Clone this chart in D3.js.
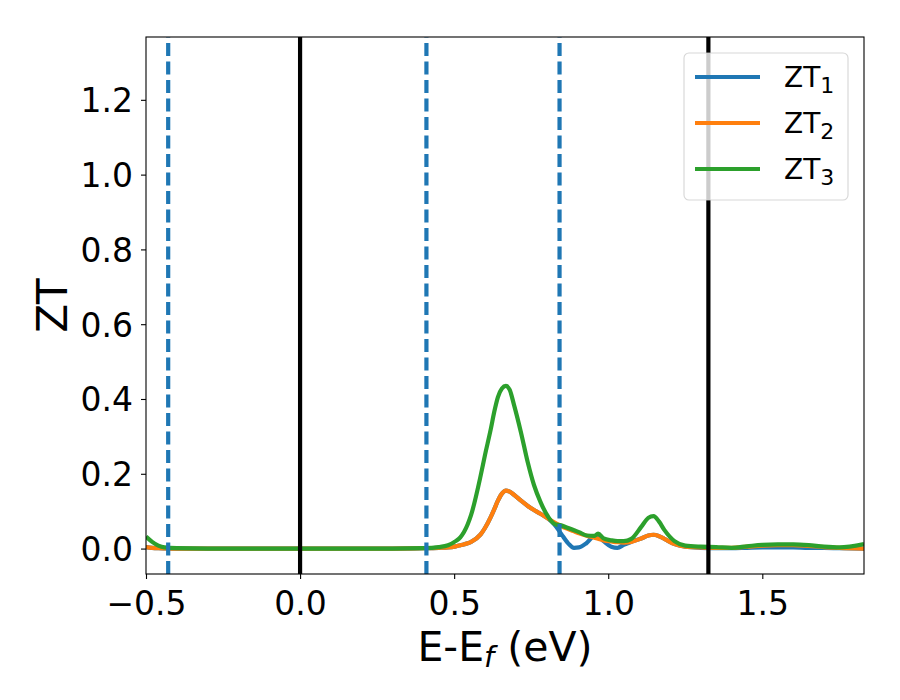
<!DOCTYPE html>
<html lang="en">
<head>
<meta charset="UTF-8" />
<title>ZT vs E-Ef</title>
<script src="https://d3js.org/d3.v7.min.js"></script>
<style>
    body { margin: 0; background: #fff; }
    svg { display: block; font-family: "DejaVu Sans", sans-serif; }
</style>
</head>
<body>
<div id="chart"></div>
<script>
// energy grid (eV) shared by the three curves
const energy = [-0.50, -0.48, -0.46, -0.44, -0.40, -0.30, 0.30, 0.40, 0.45, 0.48,
    0.505, 0.52, 0.544, 0.555, 0.586, 0.60, 0.619, 0.63, 0.642, 0.655,
    0.668, 0.68, 0.694, 0.717, 0.739, 0.759, 0.78, 0.805, 0.825, 0.847,
    0.87, 0.889, 0.905, 0.93, 0.955, 0.967, 0.985, 1.01, 1.03, 1.05,
    1.075, 1.107, 1.13, 1.147, 1.165, 1.182, 1.215, 1.25, 1.30, 1.35,
    1.40, 1.45, 1.50, 1.55, 1.60, 1.65, 1.70, 1.75, 1.83];

const zt1 = [0.004, 0.002, 0.001, 0.0005, 0, 0, 0, 0.001, 0.002, 0.003,
    0.006, 0.009, 0.014, 0.018, 0.038, 0.055, 0.085, 0.105, 0.128, 0.147,
    0.155, 0.152, 0.144, 0.128, 0.114, 0.103, 0.093, 0.080, 0.065, 0.040,
    0.014, 0.002, 0.003, 0.015, 0.033, 0.033, 0.020, 0.005, 0.002, 0.010,
    0.018, 0.027, 0.035, 0.037, 0.033, 0.026, 0.012, 0.005, 0.002, 0.001,
    0.001, 0.002, 0.003, 0.003, 0.003, 0.002, 0.002, 0.001, 0.000];

const zt2 = [0.004, 0.002, 0.001, 0.0005, 0, 0, 0, 0.001, 0.002, 0.003,
    0.006, 0.009, 0.014, 0.018, 0.038, 0.055, 0.085, 0.105, 0.128, 0.147,
    0.155, 0.152, 0.144, 0.128, 0.114, 0.103, 0.093, 0.080, 0.070, 0.060,
    0.052, 0.046, 0.041, 0.034, 0.029, 0.026, 0.022, 0.019, 0.017, 0.016,
    0.018, 0.027, 0.035, 0.037, 0.033, 0.026, 0.012, 0.005, 0.003, 0.002,
    0.002, 0.005, 0.008, 0.009, 0.009, 0.007, 0.004, 0.002, 0.000];

const zt3 = [0.032, 0.018, 0.008, 0.003, 0.001, 0, 0, 0.001, 0.004, 0.009,
    0.020, 0.030, 0.065, 0.090, 0.195, 0.250, 0.320, 0.365, 0.405, 0.428,
    0.435, 0.425, 0.385, 0.310, 0.230, 0.170, 0.125, 0.085, 0.066, 0.062,
    0.055, 0.049, 0.044, 0.035, 0.034, 0.040, 0.027, 0.022, 0.020, 0.020,
    0.026, 0.058, 0.082, 0.087, 0.072, 0.050, 0.020, 0.008, 0.005, 0.004,
    0.002, 0.006, 0.010, 0.011, 0.011, 0.009, 0.005, 0.003, 0.012];

const seriesNames = ["1", "2", "3"];
const seriesColors = ["#1f77b4", "#ff7f0e", "#2ca02c"];

// vertical marker lines
const dashedLines = [-0.428, 0.41, 0.842];
const solidLines = [0.0, 1.325];

const xTicks = [-0.5, 0.0, 0.5, 1.0, 1.5];
const yTicks = [0.0, 0.2, 0.4, 0.6, 0.8, 1.0, 1.2];

const width = 900, height = 700;
const margin = { top: 37, right: 36, bottom: 126, left: 146 };
const plotW = width - margin.left - margin.right;
const plotH = height - margin.top - margin.bottom;
const lw = 4.2;

const x = d3.scaleLinear().domain([-0.5, 1.83]).range([0, plotW]);
const y = d3.scaleLinear().domain([-0.068, 1.368]).range([plotH, 0]);

const svg = d3.select("#chart").append("svg")
    .attr("width", width)
    .attr("height", height);

svg.append("rect").attr("width", width).attr("height", height).attr("fill", "#fff");

const g = svg.append("g")
    .attr("transform", `translate(${margin.left},${margin.top})`);

g.append("clipPath").attr("id", "clip")
    .append("rect").attr("width", plotW).attr("height", plotH);

const plot = g.append("g").attr("clip-path", "url(#clip)");

const line = d3.line()
    .x(d => x(d[0]))
    .y(d => y(d[1]))
    .curve(d3.curveMonotoneX);

[zt1, zt2, zt3].forEach((vals, i) => {
    plot.append("path")
        .datum(energy.map((e, j) => [e, vals[j]]))
        .attr("d", line)
        .attr("fill", "none")
        .attr("stroke", seriesColors[i])
        .attr("stroke-width", lw)
        .attr("stroke-linejoin", "round");
});

// vertical lines, drawn from the bottom up like axvline
dashedLines.forEach(v => {
    plot.append("line")
        .attr("x1", x(v)).attr("x2", x(v))
        .attr("y1", plotH).attr("y2", 0)
        .attr("stroke", "#1f77b4")
        .attr("stroke-width", lw)
        .attr("stroke-dasharray", "13,5.5");
});
solidLines.forEach(v => {
    plot.append("line")
        .attr("x1", x(v)).attr("x2", x(v))
        .attr("y1", plotH).attr("y2", 0)
        .attr("stroke", "#000")
        .attr("stroke-width", lw);
});

// axes
const fmt = d => d3.format(".1f")(d).replace("-", "\u2212");

const xAxis = g.append("g")
    .attr("transform", `translate(0,${plotH})`)
    .call(d3.axisBottom(x).tickValues(xTicks).tickFormat(fmt).tickSize(5).tickPadding(8));
const yAxis = g.append("g")
    .call(d3.axisLeft(y).tickValues(yTicks).tickFormat(fmt).tickSize(5).tickPadding(8));

[xAxis, yAxis].forEach(a => {
    a.select(".domain").remove();
    a.selectAll(".tick line").attr("stroke", "#000").attr("stroke-width", 1.1);
    a.selectAll(".tick text")
        .attr("font-family", "DejaVu Sans")
        .attr("font-size", 33)
        .attr("fill", "#000");
});
xAxis.selectAll(".tick text").attr("dy", null).attr("y", 41);
yAxis.selectAll(".tick text").attr("dy", "0.36em").attr("x", -13);

// frame
g.append("rect")
    .attr("width", plotW).attr("height", plotH)
    .attr("fill", "none")
    .attr("stroke", "#000")
    .attr("stroke-width", 1.1);

// axis labels
const xl = svg.append("text")
    .attr("x", margin.left + plotW / 2)
    .attr("y", 661)
    .attr("text-anchor", "middle")
    .attr("font-size", 41)
    .attr("fill", "#000");
xl.append("tspan").text("E-E");
xl.append("tspan").attr("font-size", 29).attr("font-style", "italic").attr("dy", 6).text("f");
xl.append("tspan").attr("dy", -6).text(" (eV)");

svg.append("text")
    .attr("transform", `translate(67,${margin.top + plotH / 2}) rotate(-90)`)
    .attr("text-anchor", "middle")
    .attr("font-size", 42)
    .attr("fill", "#000")
    .text("ZT");

// legend
const legend = svg.append("g").attr("transform", "translate(684,53)");
legend.append("rect")
    .attr("width", 164).attr("height", 147)
    .attr("rx", 5).attr("ry", 5)
    .attr("fill", "#fff").attr("fill-opacity", 0.8)
    .attr("stroke", "#cccccc").attr("stroke-opacity", 0.8)
    .attr("stroke-width", 1.1);

seriesNames.forEach((name, i) => {
    const ly = 24 + i * 46;
    legend.append("line")
        .attr("x1", 11).attr("x2", 76)
        .attr("y1", ly).attr("y2", ly)
        .attr("stroke", seriesColors[i])
        .attr("stroke-width", lw);
    const t = legend.append("text")
        .attr("x", 100).attr("y", ly + 10)
        .attr("font-size", 28)
        .attr("fill", "#000");
    t.append("tspan").text("ZT");
    t.append("tspan").attr("font-size", 22).attr("dy", 6).text(name);
});
</script>
</body>
</html>
